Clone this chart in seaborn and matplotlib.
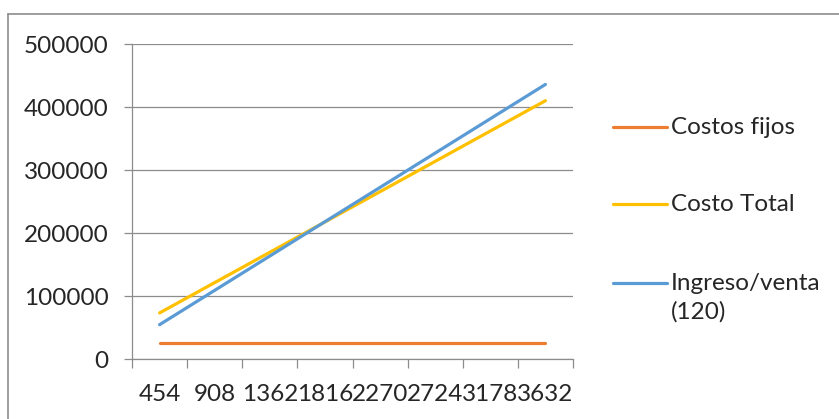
import matplotlib
matplotlib.use("Agg")
import matplotlib.pyplot as plt
from matplotlib.lines import Line2D
import numpy as np
import pandas as pd
import seaborn as sns

# Break-even chart data
unidades = ["454", "908", "1362", "1816", "2270", "2724", "3178", "3632"]
costos_fijos = [25000, 25000, 25000, 25000, 25000, 25000, 25000, 25000]
costo_total = [73124, 121248, 169372, 217496, 265620, 313744, 361868, 409992]
ingreso_venta = [54480, 108960, 163440, 217920, 272400, 326880, 381360, 435840]

series_names = ["Costos fijos", "Costo Total", "Ingreso/venta\n(120)"]
colors = ["#ED7D31", "#FFC000", "#5B9BD5"]

sns.set_theme(style="white")
plt.rcParams["font.family"] = ["Lato", "DejaVu Sans"]
FS = 17.5
LW = 2.3

pos = np.arange(len(unidades))
df = pd.DataFrame({
    "pos": np.tile(pos, 3),
    "valor": costos_fijos + costo_total + ingreso_venta,
    "serie": np.repeat(series_names, len(unidades)),
})

W, H = 839, 419
fig = plt.figure(figsize=(W / 100, H / 100), dpi=100)
ax = fig.add_axes([132 / W, 1 - 359 / H, (573 - 132) / W, (359 - 44) / H])

sns.lineplot(data=df, x="pos", y="valor", hue="serie", hue_order=series_names,
             palette=colors, linewidth=LW, ax=ax, legend=False)

ax.set_xlim(-0.5, len(unidades) - 0.5)
ax.set_ylim(0, 500000)
ax.set_xlabel("")
ax.set_ylabel("")

# y axis: gridlines with short outward ticks
ax.set_yticks(np.arange(0, 500001, 100000))
ax.set_yticklabels([str(v) for v in range(0, 500001, 100000)], fontsize=FS)
ax.yaxis.grid(True, color="#8C8C8C", linewidth=0.9)
ax.set_axisbelow(True)

# x axis: tick marks between categories, labels centred on categories
ax.set_xticks(np.arange(-0.5, len(unidades), 1.0))
ax.set_xticklabels([])
ax.set_xticks(pos, minor=True)
ax.set_xticklabels(unidades, minor=True, fontsize=FS)
ax.tick_params(axis="x", which="major", direction="out", length=6.5, color="#8C8C8C",
               width=0.9, bottom=True)
ax.tick_params(axis="x", which="minor", length=0, pad=18, bottom=True)
ax.tick_params(axis="y", direction="out", length=6, color="#8C8C8C", width=0.9,
               pad=11, left=True)

for side in ["top", "right"]:
    ax.spines[side].set_visible(False)
for side in ["left", "bottom"]:
    ax.spines[side].set_color("#8C8C8C")
    ax.spines[side].set_linewidth(0.9)

# legend: key line beside the first line of each label
legend_y = [127, 204, 283]
for name, color, y in zip(series_names, colors, legend_y):
    fig.add_artist(Line2D([613 / W, 667 / W], [1 - y / H, 1 - y / H],
                          transform=fig.transFigure, color=color, linewidth=LW,
                          solid_capstyle="round"))
    fig.text(671 / W, 1 - (y - 10) / H, name, fontsize=FS, va="top", ha="left",
             linespacing=1.4)

# chart area border
fig.add_artist(Line2D([8 / W, 1], [1 - 14 / H, 1 - 14 / H],
                      transform=fig.transFigure, color="#8C8C8C", linewidth=1.2))
fig.add_artist(Line2D([8 / W, 8 / W], [0, 1 - 14 / H],
                      transform=fig.transFigure, color="#8C8C8C", linewidth=1.2))

fig.savefig("out.png", dpi=100, facecolor="white")
